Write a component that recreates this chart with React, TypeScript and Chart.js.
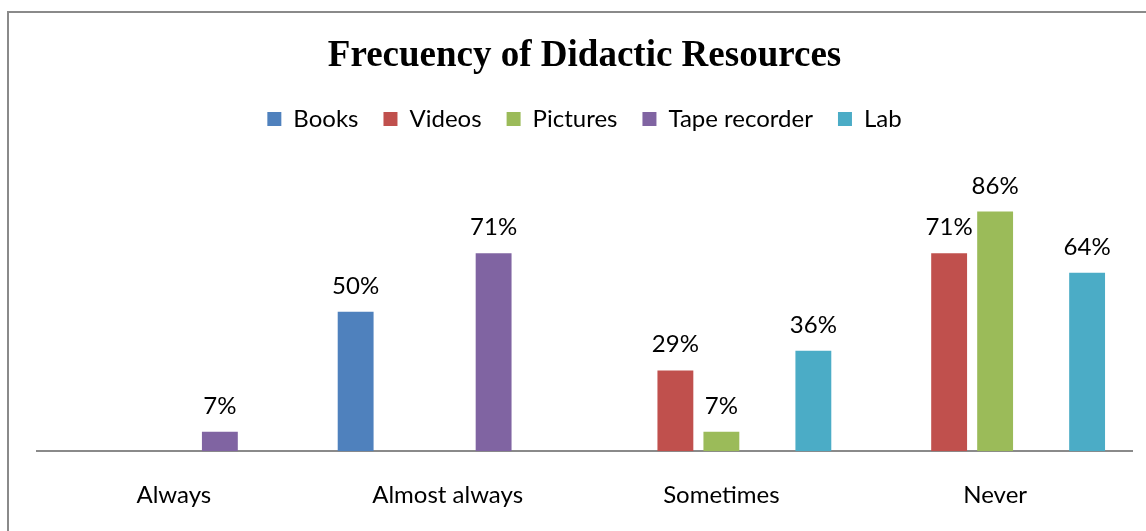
import React, { useEffect, useRef } from "react";
import { Chart, registerables } from "chart.js";

Chart.register(...registerables);

const categories = ["Always", "Almost always", "Sometimes", "Never"];
const seriesNames = ["Books", "Videos", "Pictures", "Tape recorder", "Lab"];
const books = [null, 50, null, null];
const videos = [null, null, 29, 71];
const pictures = [null, null, 7, 86];
const tapeRecorder = [7, 71, null, null];
const lab = [null, null, 36, 64];
const colors = ["#4F81BD", "#C0504D", "#9BBB59", "#8064A2", "#4BACC6"];

const LABEL_FONT = "Lato";
const LABEL_SIZE = 24;

const framePlugin = {
  id: "frame",
  beforeDraw(chart: any) {
    const ctx = chart.ctx;
    ctx.save();
    ctx.fillStyle = "#ffffff";
    ctx.fillRect(0, 0, chart.width, chart.height);
    ctx.strokeStyle = "#8a8a8a";
    ctx.lineWidth = 2;
    ctx.strokeRect(8, 12, chart.width + 20, chart.height + 20);
    ctx.restore();
  },
};

const valueLabelPlugin = {
  id: "valueLabels",
  afterDatasetsDraw(chart: any) {
    const ctx = chart.ctx;
    ctx.save();
    ctx.font = `${LABEL_SIZE}px ${LABEL_FONT}`;
    ctx.fillStyle = "#000000";
    ctx.textAlign = "center";
    ctx.textBaseline = "alphabetic";
    chart.data.datasets.forEach((ds: any, i: number) => {
      const meta = chart.getDatasetMeta(i);
      meta.data.forEach((el: any, j: number) => {
        const v = ds.data[j];
        if (v === null || v === undefined) return;
        ctx.fillText(`${v}%`, el.x, el.y - 18);
      });
    });
    ctx.restore();
  },
};

export default function App() {
  const ref = useRef<HTMLCanvasElement>(null);
  useEffect(() => {
    if (!ref.current) return;
    const seriesData = [books, videos, pictures, tapeRecorder, lab];
    const chart = new Chart(ref.current, {
      type: "bar",
      data: {
        labels: categories,
        datasets: seriesNames.map((name, i) => ({
          label: name,
          data: seriesData[i],
          backgroundColor: colors[i],
          borderWidth: 0,
          categoryPercentage: 0.84,
          barPercentage: 0.78,
        })),
      },
      options: {
        responsive: false,
        animation: false,
        layout: { padding: { top: 0, left: 37, right: 14, bottom: 0 } },
        plugins: {
          title: {
            display: true,
            text: "Frecuency of Didactic Resources",
            color: "#000000",
            font: { family: "Liberation Serif", size: 37, weight: "bold", lineHeight: 1.0 },
            padding: { top: 38, bottom: 7 },
          },
          legend: {
            display: true,
            position: "top",
            labels: {
              color: "#000000",
              font: { family: LABEL_FONT, size: LABEL_SIZE },
              boxWidth: 14,
              boxHeight: 14,
              padding: 25,
            },
          },
          tooltip: { enabled: false },
        },
        scales: {
          x: {
            grid: { display: false, drawTicks: false },
            border: { display: true, color: "#8a8a8a", width: 2 },
            ticks: {
              color: "#000000",
              font: { family: LABEL_FONT, size: LABEL_SIZE },
              padding: 30,
            },
          },
          y: {
            display: false,
            min: 0,
            max: 111.3,
          },
        },
      },
      plugins: [framePlugin, valueLabelPlugin],
    });
    return () => chart.destroy();
  }, []);
  return (
    <div style={{ position: "absolute", left: 0, top: 0, width: 1146, height: 531, overflow: "hidden" }}>
      <canvas ref={ref} width={1146} height={540} />
    </div>
  );
}
